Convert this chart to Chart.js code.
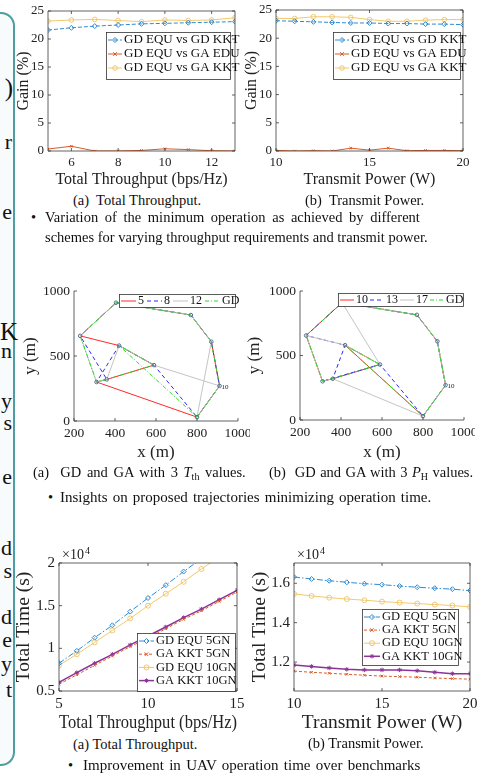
<!DOCTYPE html>
<html lang="en">
<head>
<meta charset="UTF-8">
<title>UAV operation time results</title>
<script src="https://cdn.jsdelivr.net/npm/chart.js"></script>
<style>
  body { margin: 0; background: #fff; font-family: 'Liberation Serif', 'DejaVu Serif', serif; color: #111; }
  #page { position: relative; width: 500px; height: 777px; overflow: hidden; }
  .panel { position: absolute; left: -30px; top: 12px; width: 41px; height: 750px;
           border: 2px solid #4d9ea3; border-radius: 14px; background: #f7fbfc; }
  .edge { position: absolute; left: 0; text-align: right; font-size: 22px; line-height: 24px; }
  .wrap { position: absolute; overflow: hidden; }
  .wrap canvas { position: absolute; left: 0; top: 0; }
  .cap { position: absolute; font-size: 14.5px; line-height: 18px; white-space: nowrap; }
  .cap sub { font-size: 10px; vertical-align: -3px; line-height: 0; }
</style>
</head>
<body>
<div id="page">
  <div class="panel"></div>
  <div class="edge" style="top:75px;width:13px;font-size:25px;line-height:26px">)</div>
  <div class="edge" style="top:130px;width:12px">r</div>
  <div class="edge" style="top:200px;width:12px">e</div>
  <div class="edge" style="top:319px;width:12px;font-size:25px;line-height:26px">K</div>
  <div class="edge" style="top:339px;width:12px">n</div>
  <div class="edge" style="top:389px;width:12px">y</div>
  <div class="edge" style="top:411px;width:12px">s</div>
  <div class="edge" style="top:465px;width:12px">e</div>
  <div class="edge" style="top:536px;width:12px">d</div>
  <div class="edge" style="top:559px;width:12px">s</div>
  <div class="edge" style="top:605px;width:12px">d</div>
  <div class="edge" style="top:628px;width:12px">e</div>
  <div class="edge" style="top:652px;width:12px">y</div>
  <div class="edge" style="top:678px;width:12px">t</div>

  <div class="wrap" style="left:0;top:-4px;width:250px;height:194px"><canvas id="gainTp" width="250" height="194"></canvas></div>
  <div class="wrap" style="left:240px;top:-4px;width:260px;height:194px"><canvas id="gainPw" width="260" height="194"></canvas></div>
  <div class="cap" style="left:73px;top:191px">(a)&nbsp; Total Throughput.</div>
  <div class="cap" style="left:305px;top:191px">(b)&nbsp; Transmit Power.</div>
  <div class="cap" style="left:31px;top:208px">•</div>
  <div class="cap" style="left:45px;top:208px;word-spacing:3px">Variation of the minimum operation as achieved by different</div>
  <div class="cap" style="left:45px;top:228px">schemes for varying throughput requirements and transmit power.</div>

  <div class="wrap" style="left:0;top:270px;width:250px;height:195px"><canvas id="trajTh" width="290" height="195"></canvas></div>
  <div class="wrap" style="left:240px;top:270px;width:235px;height:195px"><canvas id="trajPh" width="260" height="195"></canvas></div>
  <div class="cap" style="left:33px;top:463px;word-spacing:2px">(a)&nbsp; GD and GA with 3 <i>T</i><sub>th</sub> values.</div>
  <div class="cap" style="left:269px;top:463px;word-spacing:0.8px">(b)&nbsp; GD and GA with 3 <i>P</i><sub>H</sub> values.</div>
  <div class="cap" style="left:48px;top:488px">•</div>
  <div class="cap" style="left:60px;top:488px;font-size:15px;word-spacing:1.4px">Insights on proposed trajectories minimizing operation time.</div>

  <div class="wrap" style="left:0;top:530px;width:250px;height:205px"><canvas id="timeTp" width="250" height="205"></canvas></div>
  <div class="wrap" style="left:240px;top:530px;width:260px;height:205px"><canvas id="timePw" width="260" height="205"></canvas></div>
  <div class="cap" style="left:73px;top:735px">(a) Total Throughput.</div>
  <div class="cap" style="left:308px;top:734px">(b) Transmit Power.</div>
  <div class="cap" style="left:68px;top:756px">•</div>
  <div class="cap" style="left:83px;top:756px;font-size:15px;word-spacing:1.6px">Improvement in UAV operation time over benchmarks</div>
</div>

<script>
// ---- gain vs throughput / power (%) ----
const tpX = [5, 6, 7, 8, 9, 10, 11, 12, 13];
const tpGainGdKkt = [21.6, 22.0, 22.3, 22.5, 22.7, 22.8, 22.9, 23.0, 23.1];
const tpGainGaEdu = [0.35, 0.85, 0.0, 0.0, 0.1, 0.4, 0.25, 0.05, 0.0];
const tpGainGaKkt = [23.2, 23.4, 23.5, 23.3, 23.1, 23.4, 23.3, 23.4, 23.8];
const pwX = [10, 11, 12, 13, 14, 15, 16, 17, 18, 19, 20];
const pwGainGdKkt = [23.1, 23.0, 22.9, 22.8, 22.7, 22.7, 22.6, 22.6, 22.5, 22.5, 22.4];
const pwGainGaEdu = [0.1, 0.0, 0.05, 0.0, 0.5, 0.15, 0.5, 0.05, 0.1, 0.1, 0.05];
const pwGainGaKkt = [23.5, 23.5, 23.8, 23.8, 23.7, 23.3, 23.0, 23.0, 23.2, 23.3, 23.3];
const gainNames = ['GD EQU vs GD KKT', 'GD EQU vs GA EDU', 'GD EQU vs GA KKT'];
const gainTicks = [0, 5, 10, 15, 20, 25];
const tpTicksTop = [6, 8, 10, 12];
const pwTicks = [10, 15, 20];

// ---- trajectories (m) ----
const nodeX = [230, 405, 770, 870, 910, 800, 310, 360, 420, 590];
const nodeY = [655, 910, 815, 610, 270, 30, 300, 320, 580, 430];
const tourTh5 = [5, 4, 3, 2, 1, 0, 8, 9, 7, 6, 5];
const tourTh8 = [5, 4, 3, 2, 1, 0, 7, 6, 8, 9, 5];
const tourTh12 = [5, 3, 2, 1, 0, 6, 7, 8, 9, 4, 5];
const tourPh10 = [5, 4, 3, 2, 1, 0, 6, 7, 9, 8, 5];
const tourPh13 = [5, 4, 3, 2, 1, 0, 8, 7, 6, 9, 5];
const tourPh17 = [3, 2, 1, 9, 8, 0, 6, 7, 5, 4, 3];
const tourGD = [5, 4, 3, 2, 1, 0, 6, 7, 9, 8, 5];
const thNames = ['5', '8', '12', 'GD'];
const phNames = ['10', '13', '17', 'GD'];
const xmTicks = [200, 400, 600, 800, 1000];
const ymTicks = [0, 500, 1000];

// ---- total time (x 10^4 s) ----
const tpX2 = [5, 6, 7, 8, 9, 10, 11, 12, 13, 14, 15];
const tTpEqu5 = [0.825, 0.97, 1.125, 1.27, 1.43, 1.59, 1.74, 1.90, 2.05, 2.20, 2.35];
const tTpKkt5 = [0.58, 0.69, 0.80, 0.91, 1.02, 1.12, 1.23, 1.34, 1.44, 1.55, 1.66];
const tTpEqu10 = [0.80, 0.93, 1.07, 1.21, 1.35, 1.50, 1.64, 1.78, 1.93, 2.07, 2.21];
const tTpKkt10 = [0.60, 0.715, 0.825, 0.93, 1.04, 1.145, 1.25, 1.36, 1.46, 1.57, 1.68];
const tPwEqu5 = [1.632, 1.622, 1.613, 1.605, 1.598, 1.593, 1.586, 1.580, 1.575, 1.570, 1.563];
const tPwKkt5 = [1.154, 1.148, 1.143, 1.138, 1.133, 1.129, 1.126, 1.123, 1.119, 1.116, 1.113];
const tPwEqu10 = [1.546, 1.536, 1.527, 1.520, 1.514, 1.507, 1.502, 1.497, 1.492, 1.487, 1.480];
const tPwKkt10 = [1.185, 1.178, 1.170, 1.163, 1.160, 1.160, 1.160, 1.156, 1.148, 1.141, 1.141];
const timeNames = ['GD EQU 5GN', 'GA KKT 5GN', 'GD EQU 10GN', 'GA KKT 10GN'];
const tTpTicks = [0.5, 1, 1.5, 2];
const tpTicksBottom = [5, 10, 15];
const tPwTicks = [1.2, 1.4, 1.6];

const SERIF = "'Liberation Serif', 'DejaVu Serif', serif";
const BLUE = '#2e8bd3', ORANGE = '#dc5a26', YELLOW = '#f2c86e', PURPLE = '#8a3596';

// draw a small marker (used for the hand-made legends)
function mark(ctx, style, x, y, r, color) {
  ctx.save();
  ctx.strokeStyle = color; ctx.fillStyle = color; ctx.lineWidth = 1; ctx.setLineDash([]);
  ctx.beginPath();
  if (style === 'rectRot') {
    ctx.moveTo(x, y - r); ctx.lineTo(x + r, y); ctx.lineTo(x, y + r); ctx.lineTo(x - r, y); ctx.closePath();
  } else if (style === 'circle') {
    ctx.arc(x, y, r, 0, Math.PI * 2);
  } else if (style === 'crossRot') {
    ctx.moveTo(x - r, y - r); ctx.lineTo(x + r, y + r); ctx.moveTo(x + r, y - r); ctx.lineTo(x - r, y + r);
  } else if (style === 'star') {
    ctx.moveTo(x - r, y); ctx.lineTo(x + r, y); ctx.moveTo(x, y - r); ctx.lineTo(x, y + r);
    ctx.moveTo(x - r * 0.7, y - r * 0.7); ctx.lineTo(x + r * 0.7, y + r * 0.7);
    ctx.moveTo(x + r * 0.7, y - r * 0.7); ctx.lineTo(x - r * 0.7, y + r * 0.7);
  }
  ctx.stroke();
  ctx.restore();
}

// MATLAB-like axes: box, inward ticks, exponent note, node tag
const plotBox = {
  id: 'plotBox',
  afterDatasetsDraw(chart, args, o) {
    const {ctx, chartArea: a, scales} = chart;
    const x = scales.x, y = scales.y, tl = o.tick || 3;
    ctx.save();
    ctx.strokeStyle = '#3a3a3a'; ctx.lineWidth = 0.8; ctx.setLineDash([]);
    ctx.beginPath();
    ctx.moveTo(a.left, a.top); ctx.lineTo(a.left, a.bottom); ctx.lineTo(a.right, a.bottom);
    if (o.full) { ctx.lineTo(a.right, a.top); ctx.closePath(); }
    x.ticks.forEach(t => {
      const px = x.getPixelForValue(t.value);
      ctx.moveTo(px, a.bottom); ctx.lineTo(px, a.bottom - tl);
      if (o.full) { ctx.moveTo(px, a.top); ctx.lineTo(px, a.top + tl); }
    });
    y.ticks.forEach(t => {
      const py = y.getPixelForValue(t.value);
      ctx.moveTo(a.left, py); ctx.lineTo(a.left + tl, py);
      if (o.full) { ctx.moveTo(a.right, py); ctx.lineTo(a.right - tl, py); }
    });
    ctx.stroke();
    ctx.fillStyle = '#222';
    if (o.expo) {
      ctx.textBaseline = 'middle';
      ctx.font = '14px ' + SERIF;
      ctx.fillText('×10', a.left + 3, a.top - 8);
      const w = ctx.measureText('×10').width;
      ctx.font = '10px ' + SERIF;
      ctx.fillText('4', a.left + 4 + w, a.top - 12);
    }
    if (o.tag) {
      ctx.font = '7px ' + SERIF; ctx.textBaseline = 'middle';
      ctx.fillText(o.tag.text, x.getPixelForValue(nodeX[o.tag.i]) + 2, y.getPixelForValue(nodeY[o.tag.i]) + 1);
    }
    ctx.restore();
  }
};

// legend drawn as a white box inside the axes
const boxLegend = {
  id: 'boxLegend',
  afterDraw(chart, args, o) {
    if (!o.box) return;
    const ctx = chart.ctx;
    const [bx, by, bw, bh] = o.box;
    ctx.save();
    ctx.fillStyle = '#fff'; ctx.fillRect(bx, by, bw, bh);
    ctx.strokeStyle = '#333'; ctx.lineWidth = 0.8; ctx.strokeRect(bx + 0.5, by + 0.5, bw, bh);
    ctx.font = o.font + 'px ' + SERIF; ctx.textBaseline = 'middle';
    let cx = bx + o.pad;
    chart.data.datasets.filter(d => d.label).forEach((d, i) => {
      const x0 = o.row ? cx : bx + o.pad;
      const y0 = o.row ? by + bh / 2 + 0.5 : by + o.first + i * o.step;
      ctx.strokeStyle = d.borderColor; ctx.lineWidth = d.borderWidth;
      ctx.setLineDash(d.borderDash || []);
      ctx.beginPath(); ctx.moveTo(x0, y0); ctx.lineTo(x0 + o.len, y0); ctx.stroke();
      ctx.setLineDash([]);
      if (d.pointRadius > 0) mark(ctx, d.pointStyle, x0 + o.len / 2, y0, d.pointRadius, d.borderColor);
      ctx.fillStyle = '#111';
      ctx.fillText(d.label, x0 + o.len + 2, y0);
      cx = x0 + o.len + 2 + ctx.measureText(d.label).width + o.gap;
    });
    ctx.restore();
  }
};

function series(label, xs, ys, color, dash, marker, r, width) {
  return {
    label, data: xs.map((x, i) => ({x, y: ys[i]})),
    borderColor: color, backgroundColor: color, borderWidth: width || 1, borderDash: dash,
    pointStyle: marker, pointRadius: r, pointBorderColor: color, pointBorderWidth: 1,
    pointBackgroundColor: (marker === 'circle' || marker === 'rectRot') ? 'rgba(255,255,255,0)' : color,
    fill: false, tension: 0
  };
}

// later tours are drawn on top (lower order = on top)
function tour(label, order, color, dash, layer) {
  return {
    label, data: order.map(i => ({x: nodeX[i], y: nodeY[i]})), order: layer,
    borderColor: color, borderWidth: 1, borderDash: dash, pointRadius: 0, fill: false, tension: 0
  };
}

function nodeMarks() {
  return {
    data: nodeX.map((x, i) => ({x, y: nodeY[i]})), showLine: false, order: -1,
    pointStyle: 'circle', pointRadius: 1.8, pointBorderWidth: 1,
    pointBorderColor: '#4f6f8f', pointBackgroundColor: 'rgba(0,0,0,0)'
  };
}

// area = [left, top, right, bottom] of the plot inside the canvas
function makeChart(id, area, datasets, ax, opts) {
  const cv = document.getElementById(id);
  const cw = cv.width, ch = cv.height;
  const tickFont = {family: SERIF, size: opts.tick};
  const titleFont = {family: SERIF, size: opts.title};
  return new Chart(cv, {
    type: 'line',
    data: {datasets},
    options: {
      responsive: false, animation: false, devicePixelRatio: 1,
      layout: {padding: {left: 0, top: area[1], right: cw - area[2], bottom: 0}},
      plugins: {
        legend: {display: false}, tooltip: {enabled: false},
        plotBox: opts.box, boxLegend: opts.legend
      },
      scales: {
        x: {
          type: 'linear', min: ax.x[0], max: ax.x[1],
          afterFit: s => { s.height = ch - area[3]; },
          afterBuildTicks: s => { s.ticks = ax.xt.map(v => ({value: v})); },
          grid: {display: false, drawTicks: false}, border: {display: false},
          ticks: {autoSkip: false, maxRotation: 0, padding: 4, color: '#222', font: tickFont, callback: v => String(v)},
          title: {display: true, text: ax.xTitle, color: '#222', font: titleFont, padding: {top: 0, bottom: opts.xPad}}
        },
        y: {
          type: 'linear', min: ax.y[0], max: ax.y[1],
          afterFit: s => { s.width = area[0]; },
          afterBuildTicks: s => { s.ticks = ax.yt.map(v => ({value: v})); },
          grid: {display: false, drawTicks: false}, border: {display: false},
          ticks: {autoSkip: false, padding: 4, color: '#222', font: tickFont, callback: v => String(v)},
          title: {display: true, text: ax.yTitle, color: '#222', font: titleFont, padding: {top: opts.yPad, bottom: 0}}
        }
      }
    },
    plugins: [plotBox, boxLegend]
  });
}

// top row: gain
makeChart('gainTp', [48, 15, 235, 155], [
  series(gainNames[0], tpX, tpGainGdKkt, BLUE, [4, 2], 'rectRot', 2.5),
  series(gainNames[1], tpX, tpGainGaEdu, ORANGE, [], 'crossRot', 1.8),
  series(gainNames[2], tpX, tpGainGaKkt, YELLOW, [], 'circle', 2.3)
], {x: [5, 13], xt: tpTicksTop, y: [0, 25], yt: gainTicks, xTitle: 'Total Throughput (bps/Hz)', yTitle: 'Gain (%)'},
{tick: 13, title: 16, xPad: 0.4, yPad: 14, box: {full: true},
 legend: {box: [106, 36, 124, 47], first: 8, step: 14, len: 14, pad: 2, gap: 0, font: 13}});

makeChart('gainPw', [36, 14, 223, 155], [
  series(gainNames[0], pwX, pwGainGdKkt, BLUE, [4, 2], 'rectRot', 2.5),
  series(gainNames[1], pwX, pwGainGaEdu, ORANGE, [], 'crossRot', 1.8),
  series(gainNames[2], pwX, pwGainGaKkt, YELLOW, [], 'circle', 2.3)
], {x: [10, 20], xt: pwTicks, y: [0, 25], yt: gainTicks, xTitle: 'Transmit Power (W)', yTitle: 'Gain (%)'},
{tick: 13, title: 16, xPad: 0.4, yPad: 2.5, box: {full: true},
 legend: {box: [93, 36, 127, 47], first: 8, step: 14, len: 14, pad: 2, gap: 0, font: 13}});

// middle row: trajectories
makeChart('trajTh', [74, 21, 238, 151], [
  tour(thNames[0], tourTh5, '#ff2a2a', [], 3),
  tour(thNames[1], tourTh8, '#2a2aff', [4, 3], 2),
  tour(thNames[2], tourTh12, '#c4c4c4', [], 1),
  tour(thNames[3], tourGD, '#22dd22', [4, 2, 1, 2], 0),
  nodeMarks()
], {x: [200, 1000], xt: xmTicks, y: [0, 1000], yt: ymTicks, xTitle: 'x (m)', yTitle: 'y (m)'},
{tick: 13.5, title: 17, xPad: 2, yPad: 20, box: {full: false, tag: {i: 4, text: '10'}},
 legend: {box: [119, 24, 116, 13], row: true, len: 15, pad: 2, gap: 3, font: 12}});

makeChart('trajPh', [60, 21, 224, 150], [
  tour(phNames[0], tourPh10, '#ff2a2a', [], 3),
  tour(phNames[1], tourPh13, '#2a2aff', [4, 3], 2),
  tour(phNames[2], tourPh17, '#c4c4c4', [], 1),
  tour(phNames[3], tourGD, '#22dd22', [4, 2, 1, 2], 0),
  nodeMarks()
], {x: [200, 1000], xt: xmTicks, y: [0, 1000], yt: ymTicks, xTitle: 'x (m)', yTitle: 'y (m)'},
{tick: 13.5, title: 17, xPad: 2, yPad: 4.5, box: {full: false, tag: {i: 4, text: '10'}},
 legend: {box: [98, 23, 125, 13], row: true, len: 14, pad: 2, gap: 2, font: 12}});

// bottom row: total time
makeChart('timeTp', [59, 33, 237, 161], [
  series(timeNames[0], tpX2, tTpEqu5, BLUE, [6, 2, 1.5, 2], 'rectRot', 2.5),
  series(timeNames[1], tpX2, tTpKkt5, ORANGE, [3, 2], 'crossRot', 1.8),
  series(timeNames[2], tpX2, tTpEqu10, YELLOW, [], 'circle', 2.5),
  series(timeNames[3], tpX2, tTpKkt10, PURPLE, [], 'star', 2.2, 1.5)
], {x: [5, 15], xt: tpTicksBottom, y: [0.5, 2], yt: tTpTicks, xTitle: 'Total Throughput (bps/Hz)', yTitle: 'Total Time (s)'},
{tick: 15, title: 19.5, xPad: 0.3, yPad: 12, box: {full: true, expo: true},
 legend: {box: [137, 103, 98, 58], first: 8, step: 13.2, len: 15, pad: 2, gap: 0, font: 12.5}});

makeChart('timePw', [54, 33, 230, 161], [
  series(timeNames[0], pwX, tPwEqu5, BLUE, [6, 2, 1.5, 2], 'rectRot', 2.5),
  series(timeNames[1], pwX, tPwKkt5, ORANGE, [3, 2], 'crossRot', 1.8),
  series(timeNames[2], pwX, tPwEqu10, YELLOW, [], 'circle', 2.5),
  series(timeNames[3], pwX, tPwKkt10, PURPLE, [], 'star', 2.2, 1.5)
], {x: [10, 20], xt: pwTicks, y: [1.053, 1.703], yt: tPwTicks, xTitle: 'Transmit Power (W)', yTitle: 'Total Time (s)'},
{tick: 15, title: 19.5, xPad: 0.3, yPad: 8, box: {full: true, expo: true},
 legend: {box: [122, 79, 96, 56], first: 8, step: 13.1, len: 16, pad: 2, gap: 0, font: 12.5}});
</script>
</body>
</html>
